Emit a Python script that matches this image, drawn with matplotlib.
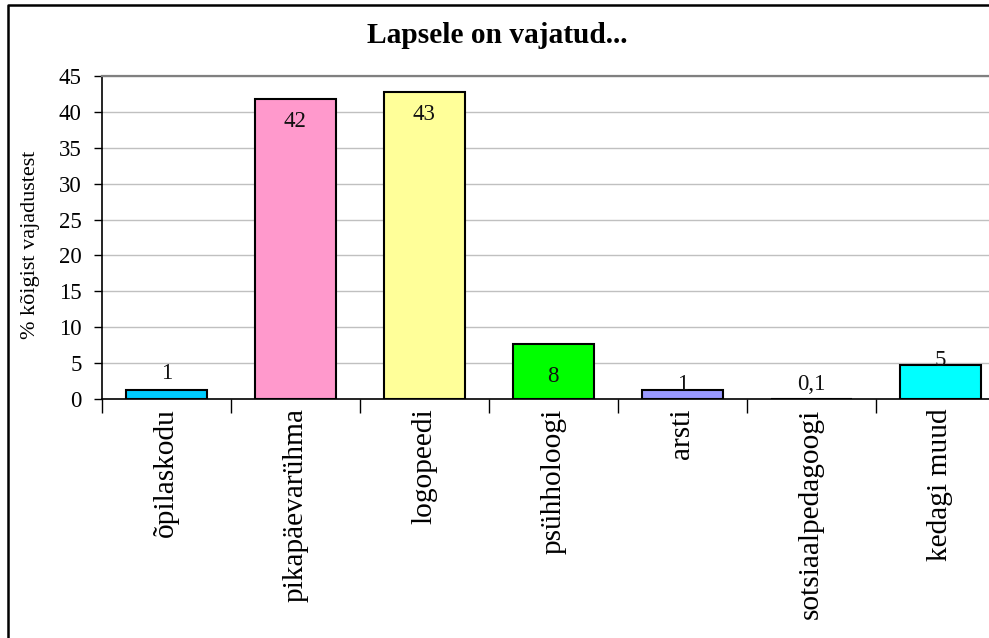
import numpy as np
import matplotlib
matplotlib.use("Agg")
import matplotlib.pyplot as plt
from matplotlib.lines import Line2D

plt.rcParams['font.family'] = ['Liberation Serif', 'DejaVu Serif']

# Data
categories = ["õpilaskodu", "pikapäevarühma", "logopeedi", "psühholoogi",
              "arsti", "sotsiaalpedagoogi", "kedagi muud"]
values = [1.3, 41.8, 42.8, 7.7, 1.3, 0.1, 4.8]
y_ticks = [0, 5, 10, 15, 20, 25, 30, 35, 40, 45]
title = "Lapsele on vajatud..."
y_label = "% kõigist vajadustest"

# Styling
bar_colors = ["#00ccff", "#ff99cc", "#ffff99", "#00ff00", "#9999ff", "#ff9900", "#00ffff"]
label_offsets_pt = [12, -16.5, -16.2, -23.5, 3.6, 9.8, 3.4]

W, H = 989, 638
fig = plt.figure(figsize=(W / 100, H / 100), dpi=100)
fig.patch.set_facecolor("white")

ax = fig.add_axes([101.7 / W, 238.7 / H, 903 / W, 323.6 / H])

x = np.arange(len(categories))
ax.bar(x, values, width=0.625, color=bar_colors, edgecolor="black",
       linewidth=1.5, zorder=3)


def fmt(v):
    if v < 0.5:
        return f"{v:.1f}".replace(".", ",")
    return f"{round(v):d}"


for xi, v, off in zip(x, values, label_offsets_pt):
    ax.annotate(fmt(v), (xi, v), xytext=(0, off), textcoords="offset points",
                ha="center", va="center", fontsize=16.5, color="#111111",
                zorder=4)

ax.set_xlim(-0.5, len(categories) - 0.5)
ax.set_ylim(0, 45)

# y axis
ax.set_yticks(y_ticks)
ax.set_yticklabels([str(t) for t in y_ticks], fontsize=16.5)
ax.tick_params(axis="y", direction="out", length=6, width=1, pad=8.5,
               colors="black")
ax.yaxis.grid(True, color="#c0c0c0", linewidth=1, zorder=0)
ax.set_axisbelow(True)

# x axis: separator ticks between categories, labels at centers
ax.set_xticks(np.arange(-0.5, len(categories), 1))
ax.set_xticklabels([])
ax.tick_params(axis="x", which="major", direction="out", length=10, width=1)
ax.set_xticks(x, minor=True)
ax.set_xticklabels(categories, minor=True, rotation=90, fontsize=21.2,
                   ha="center", va="top")
ax.tick_params(axis="x", which="minor", length=0, pad=6.5)

for s in ["left", "bottom"]:
    ax.spines[s].set_color("black")
    ax.spines[s].set_linewidth(1.2)
ax.spines["top"].set_color("#808080")
ax.spines["top"].set_linewidth(1.6)
ax.spines["right"].set_visible(False)

# Title and axis label
fig.text(497 / W, 1 - 43 / H, title, ha="center", va="baseline",
         fontsize=21.2, fontweight="bold")
fig.text(31 / W, 1 - 245 / H, y_label, rotation=90, ha="center",
         va="center", fontsize=16)

# Chart frame
fig.add_artist(Line2D([7.5 / W, 7.5 / W, 1.02], [-0.02, 1 - 5 / H, 1 - 5 / H],
                      transform=fig.transFigure, color="black", linewidth=1.8))

fig.savefig("out.png", dpi=100)
